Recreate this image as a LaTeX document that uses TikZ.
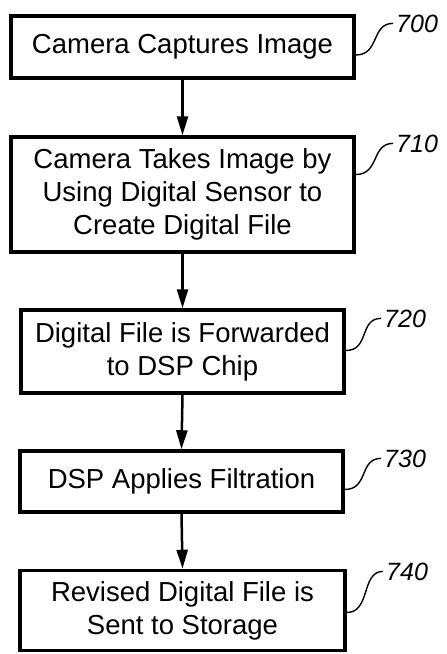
\documentclass[tikz,border=0pt]{standalone}
\usepackage{fontspec}
\setmainfont{Liberation Sans}
\usetikzlibrary{arrows.meta}
\begin{document}
\begin{tikzpicture}[x=1pt,y=-1pt,
  stepbox/.style={draw, line width=3.5pt, align=center, inner sep=0pt,
    font=\fontsize{27.5}{33}\selectfont},
  lbl/.style={inner sep=0pt, font=\fontsize{25}{30}\selectfont\itshape},
  flow/.style={line width=2.5pt, -{Triangle[length=19pt,width=11pt]}},
  leader/.style={line width=1.4pt}]
\useasboundingbox (0,0) rectangle (447,654);
\node[stepbox, minimum width=343pt, minimum height=62pt] (b700) at (182.5,47) {Camera Captures Image};
\node[stepbox, minimum width=343pt, minimum height=115pt] (b710) at (182.5,194.5) {Camera Takes Image by\\Using Digital Sensor to\\Create Digital File};
\node[stepbox, minimum width=323pt, minimum height=83pt] (b720) at (182.5,351.5) {Digital File is Forwarded\\to DSP Chip};
\node[stepbox, minimum width=323pt, minimum height=61pt] (b730) at (181.5,481.5) {DSP Applies Filtration};
\node[stepbox, minimum width=325pt, minimum height=80pt] (b740) at (182.5,610.5) {Revised Digital File is\\Sent to Storage};

\draw[flow] (b700.south) -- (b710.north);
\draw[flow] (b710.south) -- (b720.north);
\draw[flow] (b720.south) -- (b730.north);
\draw[flow] (b730.south) -- (b740.north);

\node[lbl, anchor=base west] (n700) at (396,32) {700};
\node[lbl, anchor=base west] (n710) at (396,152) {710};
\node[lbl, anchor=base west] (n720) at (384,327) {720};
\node[lbl, anchor=base west] (n730) at (384,467) {730};
\node[lbl, anchor=base west] (n740) at (386,580) {740};

\draw[leader] ([yshift=-8pt]b700.east) .. controls +(24,0) and +(-22,0) .. ([xshift=-3pt]n700.west);
\draw[leader] ([yshift=20pt]b710.east) .. controls +(24,0) and +(-22,0) .. ([xshift=-3pt]n710.west);
\draw[leader] ([yshift=1pt]b720.east) .. controls +(24,0) and +(-22,0) .. ([xshift=-3pt]n720.west);
\draw[leader] ([yshift=-8pt]b730.east) .. controls +(24,0) and +(-22,0) .. ([xshift=-3pt]n730.west);
\draw[leader] ([yshift=-2pt]b740.east) .. controls +(24,0) and +(-22,0) .. ([xshift=-3pt]n740.west);
\end{tikzpicture}
\end{document}
